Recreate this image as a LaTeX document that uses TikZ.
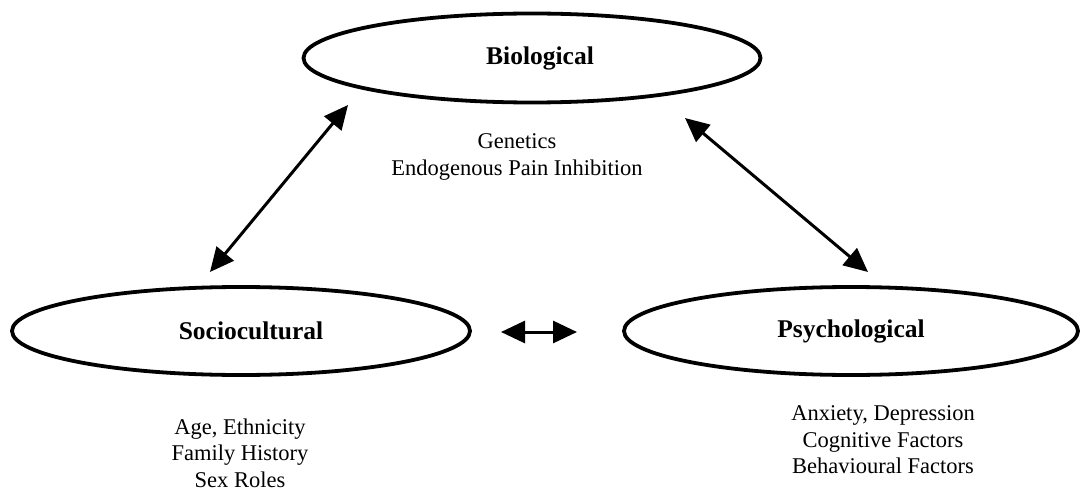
\documentclass[tikz,border=0pt]{standalone}
\usepackage{fontspec}
\setmainfont{Liberation Serif}
\usetikzlibrary{shapes.geometric,arrows.meta}
\begin{document}
\begin{tikzpicture}[x=1pt,y=-1pt,
  areabox/.style={ellipse,draw,line width=3.8pt,inner sep=0pt,
    font=\fontsize{25.5}{28}\selectfont\bfseries},
  factors/.style={align=center,inner sep=0pt,
    font=\fontsize{22.5}{26.5}\selectfont},
  link/.style={line width=3pt,
    {Triangle[length=24pt,width=22pt]}-{Triangle[length=24pt,width=22pt]}}]
\useasboundingbox (0,0) rectangle (1089,492);
\node[areabox,minimum width=457pt,minimum height=89pt] (bio) at (532,58) {\hspace*{16pt}Biological};
\node[areabox,minimum width=458pt,minimum height=88pt] (soc) at (241,331) {\hspace*{20pt}Sociocultural};
\node[areabox,minimum width=454pt,minimum height=88pt] (psy) at (851,331) {Psychological};
\node[factors] (biof) at (517,157) {Genetics\\Endogenous Pain Inhibition};
\node[factors] (socf) at (240,453) {Age, Ethnicity\\Family History\\Sex Roles};
\node[factors] (psyf) at (883,440) {Anxiety, Depression\\Cognitive Factors\\Behavioural Factors};
\coordinate (bsl) at (348,105);
\coordinate (sbl) at (210,272);
\coordinate (bpr) at (685,118);
\coordinate (pbr) at (868,272);
\coordinate (spm) at (501,332);
\coordinate (psm) at (577,332);
\draw[link] (bsl) -- (sbl);
\draw[link] (bpr) -- (pbr);
\draw[link] (spm) -- (psm);
\end{tikzpicture}
\end{document}
